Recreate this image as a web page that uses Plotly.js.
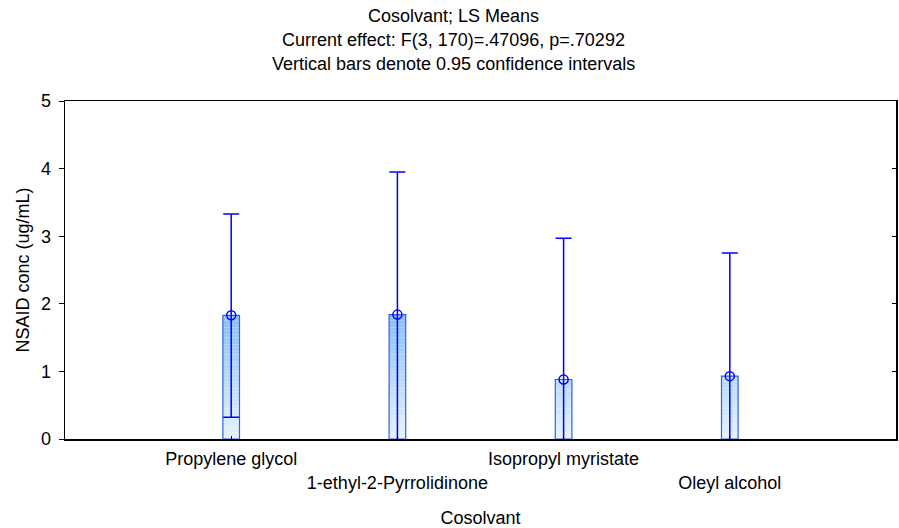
<!DOCTYPE html>
<html>
<head>
<meta charset="utf-8">
<script src="https://cdn.plot.ly/plotly-3.0.1.min.js"></script>
<style>html,body{margin:0;padding:0;background:#fff;}#chart{width:899px;height:528px;}</style>
</head>
<body>
<div id="chart"></div>
<script>
// Data
const categories = ["Propylene glycol", "1-ethyl-2-Pyrrolidinone", "Isopropyl myristate", "Oleyl alcohol"];
const means = [1.83, 1.84, 0.88, 0.93];
const ciUpper = [3.33, 3.95, 2.97, 2.75];
const ciLower = [0.32, -0.27, -1.21, -0.89];
const titleLines = ["Cosolvant; LS Means", "Current effect: F(3, 170)=.47096, p=.70292", "Vertical bars denote 0.95 confidence intervals"];
const xTitle = "Cosolvant";
const yTitle = "NSAID conc (ug/mL)";

const xpos = categories.map((c, i) => i + 1);
const tickText = categories.map((c, i) => (i % 2 === 1 ? "<br>" + c : c));

// gradient colour depends on absolute y
function colAt(y) {
  const t = Math.min(1, Math.max(0, y / 1.85));
  const a = [230, 242, 254], b = [136, 190, 246];
  const c = a.map((v, i) => Math.round(v + (b[i] - v) * t));
  return "rgb(" + c.join(",") + ")";
}

const traces = [];
const step = 0.05;
const maxMean = Math.max(...means);
const nSeg = Math.ceil(maxMean / step);
for (let k = 0; k < nSeg; k++) {
  const lo = k * step;
  traces.push({
    type: "bar", x: xpos, base: means.map(() => lo),
    y: means.map(v => Math.max(0, Math.min(step, v - lo))),
    width: 0.1, marker: {color: colAt(lo + step / 2), line: {width: 0}},
    hoverinfo: "skip", showlegend: false
  });
}
traces.push({
  type: "bar", x: xpos, y: means, width: 0.1,
  marker: {color: "rgba(0,0,0,0)", line: {color: "#2f62e6", width: 1.2}},
  showlegend: false, hoverinfo: "skip"
});
traces.push({
  type: "scatter", mode: "markers", x: xpos, y: means,
  marker: {symbol: "circle-open", size: 9, color: "#0000ff", line: {width: 1.5, color: "#0000ff"}},
  error_y: {type: "data", symmetric: false,
    array: ciUpper.map((u, i) => u - means[i]),
    arrayminus: ciLower.map((l, i) => means[i] - l),
    color: "#0000ff", thickness: 1.5, width: 8},
  showlegend: false, cliponaxis: true
});
// dummy trace for right axis
traces.push({type: "scatter", x: [null], y: [null], yaxis: "y2", showlegend: false, hoverinfo: "skip"});

const font = {family: "Liberation Sans, Arial, sans-serif", size: 18, color: "#000"};
const titleY = [16, 40, 64];
const annotations = titleLines.map((t, i) => ({
  text: t, xref: "paper", yref: "paper", x: (453 - 65) / 831, xanchor: "center",
  y: (439 - titleY[i]) / 338, yanchor: "middle", showarrow: false, font: font
}));

const layout = {
  width: 899, height: 528,
  margin: {l: 65, r: 3, t: 101, b: 89},
  paper_bgcolor: "#fff", plot_bgcolor: "#fff",
  font: font,
  barmode: "overlay",
  showlegend: false,
  annotations: annotations,
  xaxis: {
    range: [0, 5], tickvals: xpos, ticktext: tickText, tickangle: 0,
    ticks: "inside", ticklen: 3, tickcolor: "#000", ticklabelstandoff: 3,
    showgrid: false, zeroline: false, showline: true, linecolor: "#000", linewidth: 1.5, mirror: true,
    tickfont: font, title: {text: xTitle, font: font, standoff: 22}
  },
  yaxis: {
    range: [0, 5], dtick: 1, ticks: "outside", ticklen: 5, tickcolor: "#000", ticklabelstandoff: 4,
    showgrid: false, zeroline: false, showline: true, linecolor: "#000", linewidth: 1.5,
    tickfont: font, title: {text: yTitle, font: font, standoff: 6}
  },
  yaxis2: {
    overlaying: "y", side: "right", range: [0, 5], dtick: 1, ticks: "inside", ticklen: 4,
    tickcolor: "#000", showticklabels: false, showgrid: false, zeroline: false,
    showline: true, linecolor: "#000", linewidth: 1.5
  }
};
Plotly.newPlot("chart", traces, layout, {displayModeBar: false, staticPlot: true});
</script>
</body>
</html>
